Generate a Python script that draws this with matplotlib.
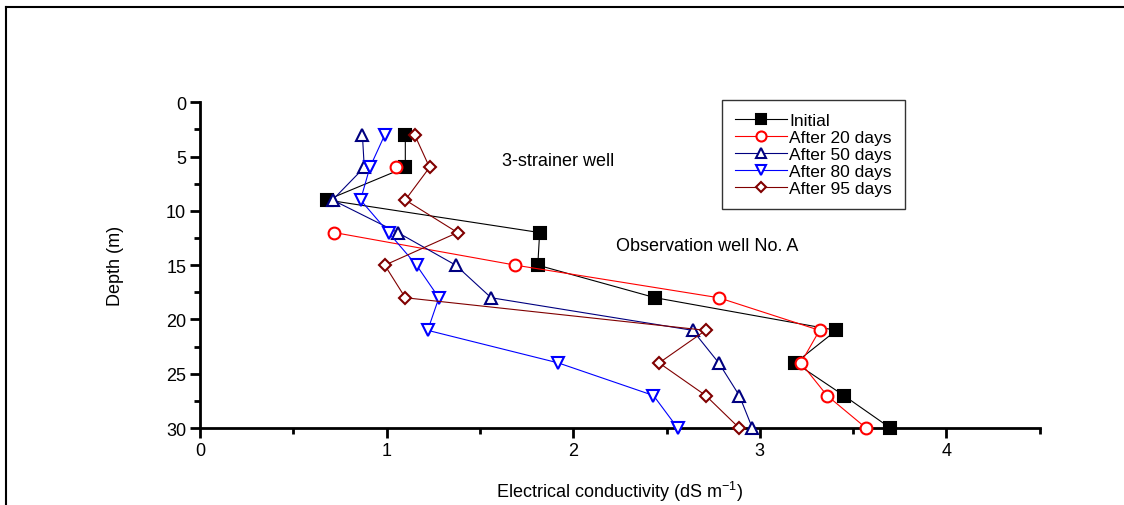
import numpy as np
import matplotlib
matplotlib.use('Agg')
import matplotlib.pyplot as plt
from matplotlib.lines import Line2D

plt.rcParams['font.family'] = ['Liberation Sans', 'DejaVu Sans']
plt.rcParams['mathtext.default'] = 'regular'

# depth (m) and EC (dS/m)
depth = [3, 6, 9, 12, 15, 18, 21, 24, 27, 30]
initial = [1.10, 1.10, 0.68, 1.82, 1.81, 2.44, 3.41, 3.19, 3.45, 3.70]
after20 = [np.nan, 1.05, np.nan, 0.72, 1.69, 2.78, 3.32, 3.22, 3.36, 3.57]
after50 = [0.87, 0.88, 0.71, 1.06, 1.37, 1.56, 2.64, 2.78, 2.89, 2.96]
after80 = [0.99, 0.91, 0.86, 1.01, 1.16, 1.28, 1.22, 1.92, 2.43, 2.56]
after95 = [1.15, 1.23, 1.10, 1.38, 0.99, 1.10, 2.71, 2.46, 2.71, 2.89]

series = [
    ("Initial", initial, 'black', 's', 'black'),
    ("After 20 days", after20, 'red', 'o', 'white'),
    ("After 50 days", after50, '#000080', '^', 'white'),
    ("After 80 days", after80, '#0000ff', 'v', 'white'),
    ("After 95 days", after95, '#800000', 'D', 'white'),
]

fig = plt.figure(figsize=(11.24, 5.06), dpi=100)
ax = fig.add_axes([0.178, 0.152, 0.747, 0.644])

for label, vals, col, mk, face in series:
    ms = 6.5 if mk == 'D' else 8.5
    ax.plot(vals, depth, color=col, lw=0.8, marker=mk, ms=ms,
            mfc=face, mec=col, mew=1.5, label=label, clip_on=False, zorder=3)

ax.set_xlim(0, 4.5)
ax.set_ylim(30, 0)
ax.set_xticks([0, 1, 2, 3, 4])
ax.set_xticks(np.arange(0.5, 4.6, 1.0), minor=True)
ax.set_yticks([0, 5, 10, 15, 20, 25, 30])
ax.set_yticks(np.arange(2.5, 30, 5), minor=True)
ax.tick_params(which='major', direction='out', length=7, width=2, labelsize=13, pad=3)
ax.tick_params(which='minor', direction='out', length=4, width=2)
for s in ['top', 'right']:
    ax.spines[s].set_visible(False)
for s in ['left', 'bottom']:
    ax.spines[s].set_linewidth(2)

ax.set_xlabel("Electrical conductivity (dS m$^{-1}$)", fontsize=13, labelpad=14)
ax.set_ylabel("Depth (m)", fontsize=13, labelpad=30)

ax.text(1.62, 5.4, "3-strainer well", fontsize=13, va='center')
ax.text(2.23, 13.2, "Observation well No. A", fontsize=13, va='center')

leg = ax.legend(loc='upper left', bbox_to_anchor=(0.642, 0.800),
                bbox_transform=fig.transFigure, fontsize=12.5, frameon=True,
                fancybox=False, shadow=False, handlelength=3.0,
                handletextpad=0.15, labelspacing=0.1, borderpad=0.75,
                borderaxespad=0.0, markerscale=0.85)
leg.get_frame().set_edgecolor('black')
leg.get_frame().set_linewidth(1.0)

# outer frame (top and left edges)
fig.add_artist(Line2D([0.005, 1.0], [0.985, 0.985], transform=fig.transFigure,
                      color='black', lw=1.5))
fig.add_artist(Line2D([0.005, 0.005], [0.0, 0.985], transform=fig.transFigure,
                      color='black', lw=1.5))

fig.savefig('out.png', dpi=100)
